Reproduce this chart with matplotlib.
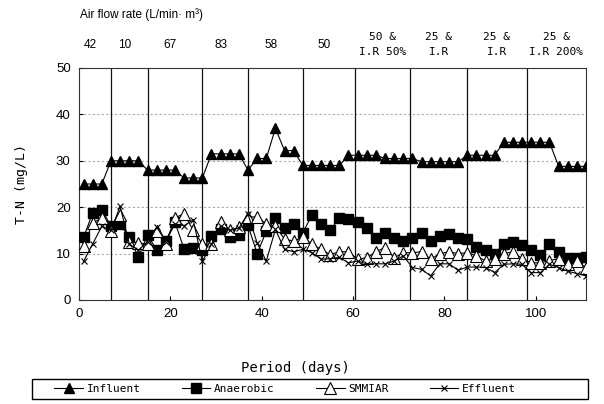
import numpy as np
import matplotlib
matplotlib.use("Agg")
import matplotlib.pyplot as plt
import matplotlib.transforms as mtransforms
from matplotlib.patches import Rectangle

# sampling days (every second day)
days = np.arange(1, 112, 2)

influent = [25, 25, 25,
            30, 30, 30, 30,
            28, 28, 28, 28,
            26.3, 26.3, 26.3,
            31.5, 31.5, 31.5, 31.5,
            28,
            30.5, 30.5,
            37,
            32.2, 32.2,
            29, 29, 29, 29, 29,
            31.2, 31.2, 31.2, 31.2,
            30.5, 30.5, 30.5, 30.5,
            29.8, 29.8, 29.8, 29.8, 29.8,
            31.2, 31.2, 31.2, 31.2,
            34, 34, 34, 34, 34, 34,
            28.8, 28.8, 28.8, 28.8]

anaerobic = [13.5, 18.8, 19.5, 15.9, 16.3, 13.5, 9.2, 14.1, 10.7, 12.8,
             16.8, 11.0, 11.3, 10.8, 13.8, 15.2, 13.6, 14.1, 16.1, 10.0,
             14.8, 17.6, 15.6, 16.3, 14.5, 18.3, 16.4, 15.0, 17.7,
             17.4, 16.9, 15.6, 13.4, 14.5, 13.4, 12.8, 13.4, 14.5, 12.8,
             13.8, 14.3, 13.4, 13.1, 11.4, 10.7, 10.0, 12.0, 12.5, 11.8,
             10.7, 9.8, 12.1, 10.4, 9.0, 9.0, 9.2]

smmiar = [11.6, 16.6, 17.6, 14.8, 18.4, 12.6, 12.3, 12.0, 14.8, 12.0,
          17.7, 18.6, 15.0, 12.1, 12.0, 16.9, 15.0, 15.7, 17.9, 17.9,
          16.4, 15.9, 13.1, 12.7, 13.5, 12.1, 10.9, 9.8, 10.4,
          10.4, 8.8, 9.1, 10.4, 11.3, 9.1, 10.2, 10.2, 10.4, 8.8,
          10.0, 10.4, 10.0, 10.2, 9.5, 8.4, 8.9, 10.0, 10.4, 8.9,
          8.0, 8.0, 8.5, 8.9, 7.7, 8.4, 7.0]

effluent = [8.3, 12.1, 15.9, 15.0, 20.2, 12.1, 10.7, 12.6, 15.7, 12.6,
            16.4, 16.0, 17.3, 8.3, 12.0, 16.0, 15.0, 15.5, 18.5, 12.3,
            8.4, 15.2, 10.9, 10.4, 10.9, 10.2, 8.8, 8.9, 9.2,
            8.0, 8.4, 7.8, 7.8, 7.8, 8.4, 9.5, 7.0, 6.6, 5.2,
            7.8, 7.8, 6.4, 7.1, 7.1, 7.0, 5.9, 7.7, 7.8, 7.7,
            5.9, 5.9, 7.7, 7.0, 6.2, 5.7, 5.2]

# phase boundaries and air flow labels
phase_edges = [0, 7, 15, 27, 37, 49, 60.5, 72.5, 85, 98, 111]
phase_labels = ["42", "10", "67", "83", "58", "50",
                "50 &\nI.R 50%", "25 &\nI.R", "25 &\nI.R", "25 &\nI.R 200%"]

mono = "DejaVu Sans Mono"
sans = "Liberation Sans"

fig = plt.figure(figsize=(6.04, 4.04), dpi=100)
ax = fig.add_axes([79 / 604, 1 - 300 / 404, (586 - 79) / 604, (300 - 68) / 404])

ax.set_xlim(0, 111)
ax.set_ylim(0, 50)
ax.set_xticks([0, 20, 40, 60, 80, 100])
ax.set_yticks([0, 10, 20, 30, 40, 50])
ax.tick_params(direction="in", length=3, width=0.8, labelsize=9.5, pad=6)
for lab in ax.get_xticklabels() + ax.get_yticklabels():
    lab.set_fontfamily(sans)
for s in ax.spines.values():
    s.set_linewidth(0.8)
    s.set_color("#333333")

for yv in [10, 20, 30, 40]:
    ax.axhline(yv, color="#aaaaaa", lw=0.8, ls=(0, (2, 2)), zorder=0)

for xv in phase_edges[1:-1]:
    ax.axvline(xv, color="#111111", lw=0.9, zorder=1)

lw = 0.8
l1, = ax.plot(days, influent, color="black", lw=lw, marker="^", ms=7.5,
              mfc="black", mec="black", label="Influent", zorder=3)
l2, = ax.plot(days, anaerobic, color="black", lw=lw, marker="s", ms=6.8,
              mfc="black", mec="black", label="Anaerobic", zorder=3)
l3, = ax.plot(days, smmiar, color="black", lw=lw, marker="^", ms=8,
              mfc="white", mec="black", mew=0.8, label="SMMIAR", zorder=3)
l4, = ax.plot(days, effluent, color="black", lw=lw, marker="x", ms=4.5,
              mew=0.8, label="Effluent", zorder=3)

# air flow labels above the plot
trans = mtransforms.blended_transform_factory(ax.transData, fig.transFigure)
for i, lab in enumerate(phase_labels):
    xc = (phase_edges[i] + phase_edges[i + 1]) / 2
    if "\n" in lab:
        top, bot = lab.split("\n")
        ax.text(xc, 1 - 37 / 404, top, transform=trans, ha="center", va="center",
                fontsize=8, family=mono)
        ax.text(xc, 1 - 52 / 404, bot, transform=trans, ha="center", va="center",
                fontsize=8, family=mono)
    else:
        ax.text(xc - 1, 1 - 45 / 404, lab, transform=trans, ha="center", va="center",
                fontsize=8.5, family=sans)

fig.text(80 / 604, 1 - 15 / 404, "Air flow rate (L/min\u00b7 m\u00b3)", ha="left",
         va="center", fontsize=8.5, family=sans)

ax.set_ylabel("T-N (mg/L)", fontsize=9.5, family=mono, labelpad=20)
fig.text(295 / 604, 1 - 368 / 404, "Period (days)", ha="center", va="center",
         fontsize=10, family=mono)

# legend box below the plot
fig.patches.append(Rectangle((32 / 604, 5 / 404), 556 / 604, 20 / 404,
                             transform=fig.transFigure, fill=False,
                             edgecolor="black", lw=1.0))
fig.legend(handles=[l1, l2, l3, l4], loc="center",
           bbox_to_anchor=(285 / 604, 15 / 404), ncol=4, frameon=False,
           handlelength=2.6, handletextpad=0.3, columnspacing=3.7,
           borderaxespad=0, prop={"family": mono, "size": 8})

fig.savefig("out.png", dpi=100)
